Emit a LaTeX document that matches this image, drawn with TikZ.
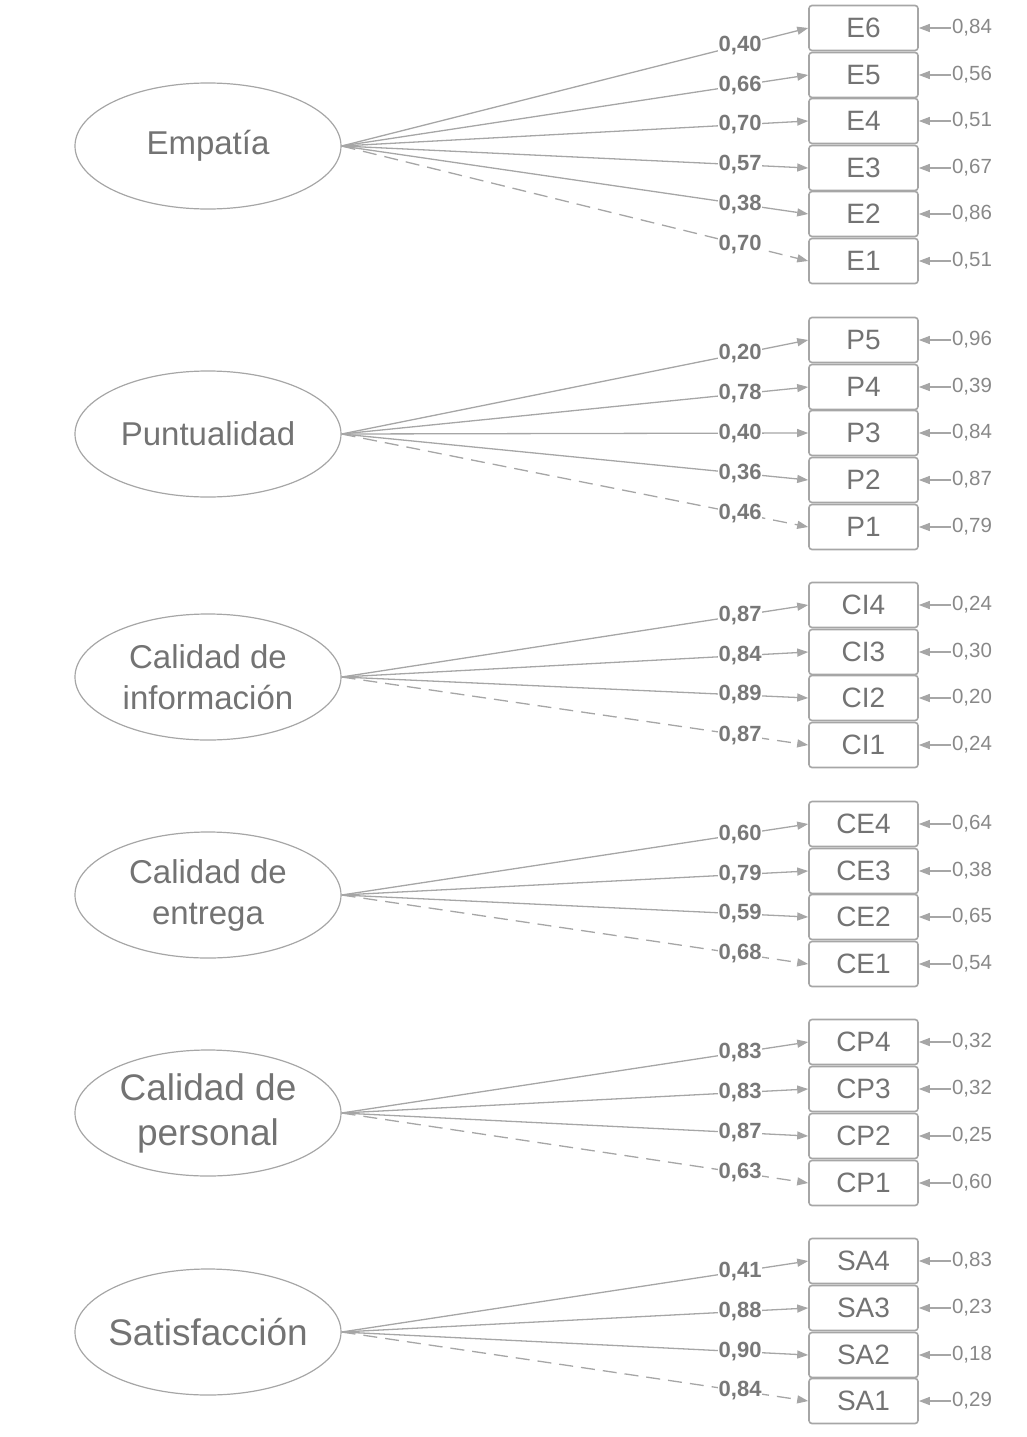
\documentclass[tikz,border=0pt]{standalone}
\usepackage{fontspec}
\setmainfont{Liberation Sans}
\usetikzlibrary{shapes.geometric,arrows.meta}
\definecolor{linec}{HTML}{A6A6A6}
\definecolor{boxc}{HTML}{A6A6A6}
\definecolor{txtc}{HTML}{737373}
\definecolor{labc}{HTML}{787878}
\definecolor{errc}{HTML}{888888}
\newcommand{\semind}[6]{%
  \node[ind] (#2) at (863.5,#3) {#2};
  \node[errlab] (#2e) at (972,#3) {#5};
  \draw[load,#6] (#1.east) -- node[lab,pos=0.854]{#4} (#2.west);
  \draw[load] (#2e.west) -- (#2.east);
}
\begin{document}
\begin{tikzpicture}[x=1pt,y=-1pt,
  lat/.style={ellipse,draw=boxc,line width=1.2pt,minimum width=266pt,minimum height=126pt,inner sep=0pt,text=txtc,align=center},
  ind/.style={rectangle,rounded corners=3pt,draw=boxc,line width=1.6pt,minimum width=109pt,minimum height=45pt,inner sep=0pt,text=txtc,font=\fontsize{28}{30}\selectfont},
  errlab/.style={inner sep=1pt,text=errc,font=\fontsize{20.5}{24}\selectfont},
  lab/.style={fill=white,inner sep=0.5pt,text=labc,font=\bfseries\fontsize{22}{24}\selectfont},
  load/.style={draw=linec,line width=1.3pt,-{Triangle[length=11pt,width=8pt]}},
  dsh/.style={dash pattern=on 14pt off 8pt},
  sol/.style={}]
\useasboundingbox (0,0) rectangle (1027,1437);

\node[lat,font=\fontsize{33}{40}\selectfont] (EM) at (208,146) {Empatía};
\node[lat,font=\fontsize{33}{40}\selectfont] (PU) at (208,434) {Puntualidad};
\node[lat,font=\fontsize{33}{41}\selectfont] (CI) at (208,677) {Calidad de\\información};
\node[lat,font=\fontsize{33}{41}\selectfont] (CE) at (208,895) {Calidad de\\entrega};
\node[lat,font=\fontsize{37}{45}\selectfont] (CP) at (208,1113) {Calidad de\\personal};
\node[lat,font=\fontsize{37}{45}\selectfont] (SA) at (208,1332) {\makebox[0pt]{Satisfacción}};

\semind{EM}{E6}{28}{0,40}{0,84}{sol}
\semind{EM}{E5}{75}{0,66}{0,56}{sol}
\semind{EM}{E4}{121}{0,70}{0,51}{sol}
\semind{EM}{E3}{168}{0,57}{0,67}{sol}
\semind{EM}{E2}{214}{0,38}{0,86}{sol}
\semind{EM}{E1}{261}{0,70}{0,51}{dsh}

\semind{PU}{P5}{340}{0,20}{0,96}{sol}
\semind{PU}{P4}{387}{0,78}{0,39}{sol}
\semind{PU}{P3}{433}{0,40}{0,84}{sol}
\semind{PU}{P2}{480}{0,36}{0,87}{sol}
\semind{PU}{P1}{527}{0,46}{0,79}{dsh}

\semind{CI}{CI4}{605}{0,87}{0,24}{sol}
\semind{CI}{CI3}{652}{0,84}{0,30}{sol}
\semind{CI}{CI2}{698}{0,89}{0,20}{sol}
\semind{CI}{CI1}{745}{0,87}{0,24}{dsh}

\semind{CE}{CE4}{824}{0,60}{0,64}{sol}
\semind{CE}{CE3}{871}{0,79}{0,38}{sol}
\semind{CE}{CE2}{917}{0,59}{0,65}{sol}
\semind{CE}{CE1}{964}{0,68}{0,54}{dsh}

\semind{CP}{CP4}{1042}{0,83}{0,32}{sol}
\semind{CP}{CP3}{1089}{0,83}{0,32}{sol}
\semind{CP}{CP2}{1136}{0,87}{0,25}{sol}
\semind{CP}{CP1}{1183}{0,63}{0,60}{dsh}

\semind{SA}{SA4}{1261}{0,41}{0,83}{sol}
\semind{SA}{SA3}{1308}{0,88}{0,23}{sol}
\semind{SA}{SA2}{1355}{0,90}{0,18}{sol}
\semind{SA}{SA1}{1401}{0,84}{0,29}{dsh}
\end{tikzpicture}
\end{document}
